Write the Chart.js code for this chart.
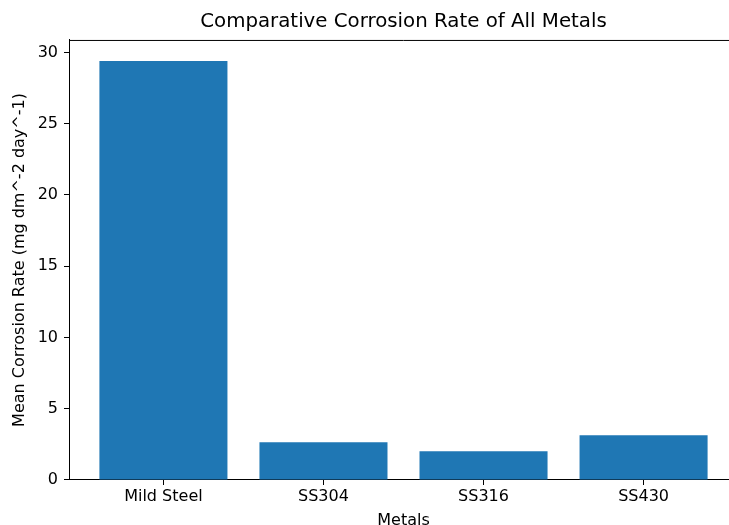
<!DOCTYPE html>
<html>
<head>
<meta charset="utf-8">
<script src="https://cdn.jsdelivr.net/npm/chart.js@4/dist/chart.umd.min.js"></script>
<style>
  html, body { margin: 0; padding: 0; background: #fff; overflow: hidden; width: 729px; height: 525px; }
  #wrap { position: relative; width: 745px; height: 535px; }
</style>
</head>
<body>
<div id="wrap"><canvas id="c" width="745" height="535"></canvas></div>
<script>
// Mean corrosion rate per metal (mg dm^-2 day^-1)
const metals = ['Mild Steel', 'SS304', 'SS316', 'SS430'];
const meanRates = [29.4, 2.65, 2.02, 3.14];
const yTicks = [0, 5, 10, 15, 20, 25, 30];

const FONT = "'DejaVu Sans', 'Liberation Sans', sans-serif";
const BAR_BLUE = '#1f77b4';
const barWidth = 0.8;

// 5% data margins around the bars, like matplotlib's autoscale
const xLo = -barWidth / 2, xHi = metals.length - 1 + barWidth / 2;
const xPad = (xHi - xLo) * 0.05;
const yMax = Math.max(...meanRates) * 1.05;

// draws the top and right frame lines around the plot area
const frame = {
  id: 'frame',
  afterDraw(chart) {
    const { ctx, chartArea: a } = chart;
    ctx.save();
    ctx.strokeStyle = '#000';
    ctx.lineWidth = 1;
    ctx.beginPath();
    ctx.moveTo(a.left, a.top + 0.5);
    ctx.lineTo(a.right, a.top + 0.5);
    ctx.moveTo(a.right - 0.5, a.top);
    ctx.lineTo(a.right - 0.5, a.bottom);
    ctx.stroke();
    ctx.restore();
  }
};

new Chart(document.getElementById('c'), {
  type: 'bar',
  data: {
    datasets: [{
      data: meanRates.map((v, i) => ({ x: i, y: v })),
      backgroundColor: BAR_BLUE,
      borderWidth: 0,
      inflateAmount: 0,
      barPercentage: barWidth,
      categoryPercentage: 1.0
    }]
  },
  options: {
    responsive: false,
    devicePixelRatio: 1,
    animation: false,
    layout: { padding: { left: 0, right: 7, top: 0, bottom: 4.5 } },
    plugins: {
      legend: { display: false },
      tooltip: { enabled: false },
      title: {
        display: true,
        fullSize: false,
        text: 'Comparative Corrosion Rate of All Metals',
        color: '#000',
        font: { family: FONT, size: 19.8, weight: 'normal', lineHeight: 1.2 },
        padding: { top: 10.1, bottom: 6.1 }
      }
    },
    scales: {
      x: {
        type: 'linear',
        offset: false,
        min: xLo - xPad,
        max: xHi + xPad,
        afterBuildTicks: s => { s.ticks = metals.map((_, i) => ({ value: i })); },
        afterFit: s => { s.height = 50.5; },
        ticks: {
          color: '#000',
          font: { family: FONT, size: 16 },
          padding: 2,
          maxRotation: 0,
          autoSkip: false,
          callback: v => metals[v]
        },
        grid: { offset: false, drawOnChartArea: false, drawTicks: true, tickLength: 5, tickColor: '#000', tickWidth: 1 },
        border: { display: true, color: '#000', width: 1 },
        title: {
          display: true,
          text: 'Metals',
          color: '#000',
          font: { family: FONT, size: 16, lineHeight: 1.2 },
          padding: { top: 0, bottom: 0 }
        }
      },
      y: {
        min: 0,
        max: yMax,
        afterBuildTicks: s => { s.ticks = yTicks.map(v => ({ value: v })); },
        afterFit: s => { s.width = 69; },
        ticks: {
          color: '#000',
          font: { family: FONT, size: 16 },
          padding: 6
        },
        grid: { drawOnChartArea: false, drawTicks: true, tickLength: 5, tickColor: '#000', tickWidth: 1 },
        border: { display: true, color: '#000', width: 1 },
        title: {
          display: true,
          text: 'Mean Corrosion Rate (mg dm^-2 day^-1)',
          color: '#000',
          font: { family: FONT, size: 16, lineHeight: 1.2 },
          padding: { top: 10.4, bottom: 0 }
        }
      }
    }
  },
  plugins: [frame]
});
</script>
</body>
</html>
